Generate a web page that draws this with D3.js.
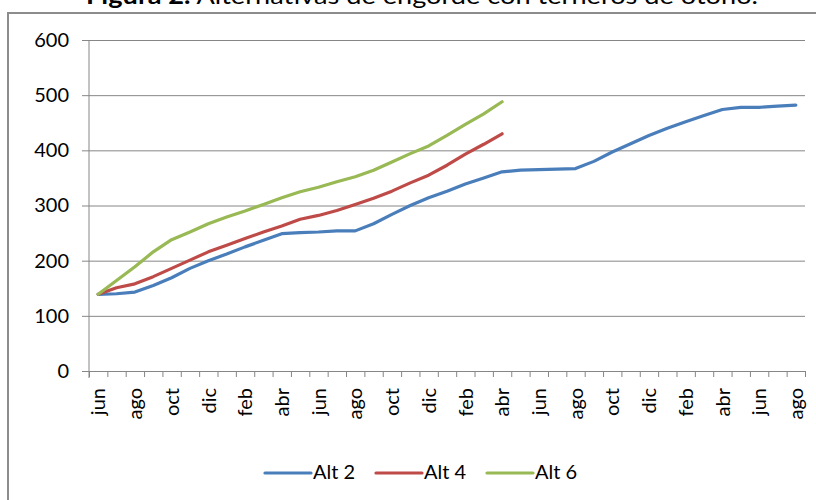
<!DOCTYPE html>
<html>
<head>
<meta charset="utf-8">
<script src="https://cdn.jsdelivr.net/npm/d3@7"></script>
<style>
  html, body { margin: 0; padding: 0; background: #fff; }
  svg { display: block; font-family: Lato, "Open Sans", sans-serif; }
</style>
</head>
<body>
<svg id="chart" width="816" height="500"></svg>
<script>
// ---- data ----
const months = ["jun","jul","ago","sep","oct","nov","dic","ene","feb","mar","abr","may",
                "jun","jul","ago","sep","oct","nov","dic","ene","feb","mar","abr","may",
                "jun","jul","ago","sep","oct","nov","dic","ene","feb","mar","abr","may",
                "jun","jul","ago"];
const alt2 = [139,140,143,155,169,186,200,212,225,237,249,251,252,254,254,267,284,300,314,326,339,350,
              361,364,365,366,367,380,397,412,427,440,452,463,474,478,478,480,482];
const alt4 = [139,151,158,171,186,201,216,228,240,252,263,275,282,291,302,313,326,341,355,373,393,411,430];
const alt6 = [139,164,189,216,238,252,267,279,290,302,314,325,333,343,352,364,379,394,408,427,447,466,488];
const seriesNames = ["Alt 2","Alt 4","Alt 6"];
const seriesColors = ["#4a7ebb","#be4b48","#98b954"];
const yTicks = [0,100,200,300,400,500,600];
const titleBold = "Figura 2.";
const titleRest = " Alternativas de engorde con terneros de otoño.";

// ---- layout ----
const svg = d3.select("#chart");
const L = 89, R = 805, T = 40, B = 371;
const idx = d3.range(months.length);
const x = d3.scaleBand().domain(idx).range([L, R]).padding(0);
const xb = d3.scaleLinear().domain([0, months.length]).range([L, R]);
const y = d3.scaleLinear().domain([0, 600]).range([B, T]);
const grey = "#868686";

// frame
svg.append("rect").attr("x", 8).attr("y", 13).attr("width", 830).attr("height", 520)
  .attr("fill", "none").attr("stroke", "#8c8c8c").attr("stroke-width", 2);

// title (partly above the top edge, as in the reference)
const title = svg.append("text").attr("x", 86).attr("y", 4).attr("text-anchor", "start")
  .attr("font-size", 24).attr("fill", "#000")
  .attr("textLength", 672).attr("lengthAdjust", "spacingAndGlyphs");
title.append("tspan").attr("font-weight", "bold").text(titleBold);
title.append("tspan").text(titleRest);

// gridlines
svg.append("g").attr("transform", `translate(${L},0)`)
  .call(d3.axisLeft(y).tickValues(yTicks).tickSize(-(R - L)).tickFormat(""))
  .call(g => g.select(".domain").remove())
  .call(g => g.selectAll("line").attr("stroke", grey));

// y axis
const ya = svg.append("g").attr("transform", `translate(${L},0)`)
  .call(d3.axisLeft(y).tickValues(yTicks).tickSize(7).tickPadding(13).tickSizeOuter(0));
ya.select(".domain").attr("stroke", grey).attr("d", `M0,${T}V${B + 7}`);
ya.selectAll("line").attr("stroke", grey);
ya.selectAll("text").attr("font-size", 20).attr("fill", "#000").attr("font-family", "Lato");

// x axis ticks at category boundaries
const xa = svg.append("g").attr("transform", `translate(0,${B})`)
  .call(d3.axisBottom(xb).tickValues(d3.range(months.length + 1)).tickSize(6).tickFormat("").tickSizeOuter(0));
xa.select(".domain").attr("stroke", grey);
xa.selectAll("line").attr("stroke", grey);

// x labels (every other month), rotated
const labelIdx = idx.filter(i => i % 2 === 0);
const xl = svg.append("g").attr("transform", `translate(0,${B})`)
  .call(d3.axisBottom(x).tickValues(labelIdx).tickFormat(i => months[i]).tickSize(0));
xl.select(".domain").remove();
xl.selectAll("text")
  .attr("font-size", 20).attr("fill", "#000").attr("font-family", "Lato")
  .attr("text-anchor", "end")
  .attr("transform", "translate(0,17) rotate(-90)")
  .attr("x", 0).attr("y", 0).attr("dy", "0.36em");

// lines
const line = d3.line().x((d, i) => x(i) + x.bandwidth() / 2).y(d => y(d));
[alt2, alt4, alt6].forEach((s, k) => {
  svg.append("path").datum(s).attr("d", line).attr("fill", "none")
    .attr("stroke", seriesColors[k]).attr("stroke-width", 3.2)
    .attr("stroke-linecap", "round").attr("stroke-linejoin", "round");
});

// legend
const legX = [265, 376, 487];
seriesNames.forEach((n, k) => {
  const g = svg.append("g");
  g.append("line").attr("x1", legX[k]).attr("x2", legX[k] + 46).attr("y1", 473).attr("y2", 473)
    .attr("stroke", seriesColors[k]).attr("stroke-width", 3.2).attr("stroke-linecap", "round");
  g.append("text").attr("x", legX[k] + 48).attr("y", 479).attr("font-size", 20)
    .attr("fill", "#000").text(n);
});
</script>
</body>
</html>
